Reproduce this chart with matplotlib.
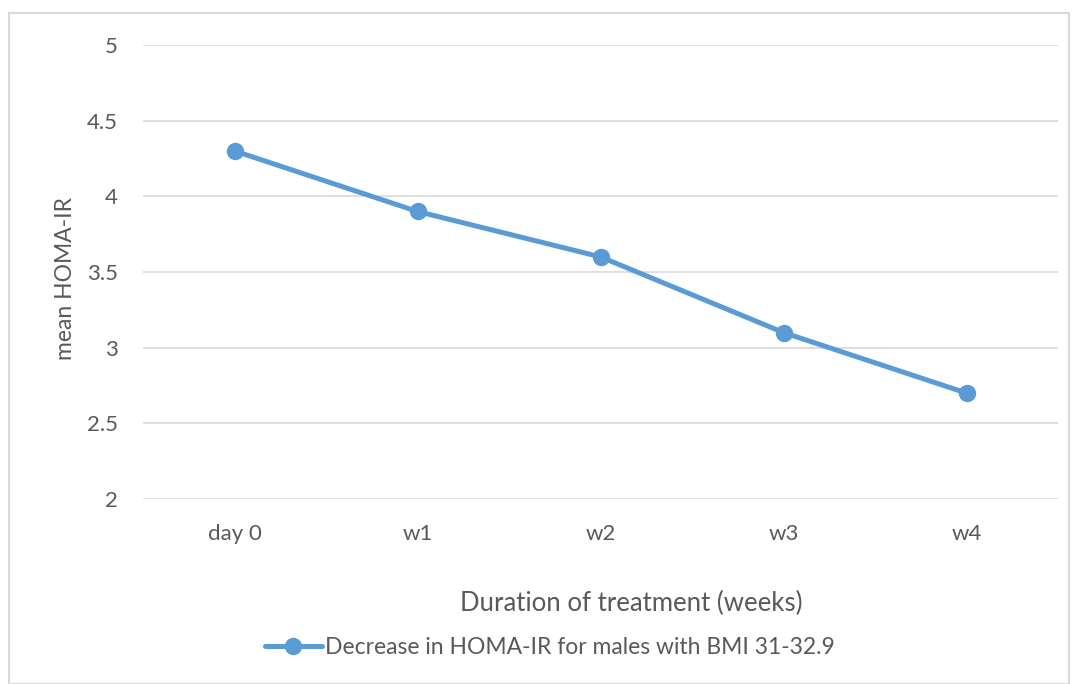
import matplotlib
matplotlib.use("Agg")
import matplotlib.pyplot as plt
from matplotlib.patches import Rectangle

plt.rcParams["font.family"] = ["Lato", "DejaVu Sans"]

# data
categories = ["day 0", "w1", "w2", "w3", "w4"]
homa_ir = [4.3, 3.9, 3.6, 3.1, 2.7]
y_ticks = [2, 2.5, 3, 3.5, 4, 4.5, 5]
series_label = "Decrease in HOMA-IR for males with BMI 31-32.9"

W, H = 1076, 684
TEXT = "#595959"
LINE = "#5b9bd5"
GRID = "#d9d9d9"

fig = plt.figure(figsize=(W / 100, H / 100), dpi=100)
fig.patch.set_facecolor("white")

# chart frame
fig.patches.append(Rectangle((9 / W, 0), (1069 - 9) / W, 1 - 13 / H,
                             transform=fig.transFigure, fill=False,
                             edgecolor="#d9d9d9", linewidth=1.5))

ax = fig.add_axes([143 / W, 1 - 499 / H, (1058 - 143) / W, (499 - 45) / H])
x = list(range(len(categories)))
ax.plot(x, homa_ir, color=LINE, linewidth=3.6, marker="o", markersize=11.5,
        label=series_label, solid_capstyle="round", zorder=3)

ax.set_xlim(-0.5, len(categories) - 0.5)
ax.set_ylim(2, 5)
ax.set_yticks(y_ticks)
ax.set_yticklabels([f"{v:g}" for v in y_ticks])
ax.set_xticks(x)
ax.set_xticklabels(categories)
ax.grid(axis="y", color=GRID, linewidth=1.2)
ax.set_axisbelow(True)
for s in ax.spines.values():
    s.set_visible(False)
ax.tick_params(length=0, labelsize=16, colors=TEXT)
ax.tick_params(axis="x", pad=18)
ax.tick_params(axis="y", pad=18)

ax.set_xlabel("Duration of treatment (weeks)", fontsize=18.5, color=TEXT, va="center")
ax.xaxis.set_label_coords((631 - 143) / 915, (499 - 603) / 454)
ax.set_ylabel("mean HOMA-IR", fontsize=16.5, color=TEXT, va="center")
ax.yaxis.set_label_coords((66 - 143) / 915, (499 - 278) / 454)

leg = fig.legend(loc="center", bbox_to_anchor=(550 / W, 1 - 648 / H),
                 frameon=False, fontsize=16.5, handlelength=2.5, handletextpad=0.15)
for t in leg.get_texts():
    t.set_color(TEXT)

fig.savefig("out.png", dpi=100, facecolor="white")
